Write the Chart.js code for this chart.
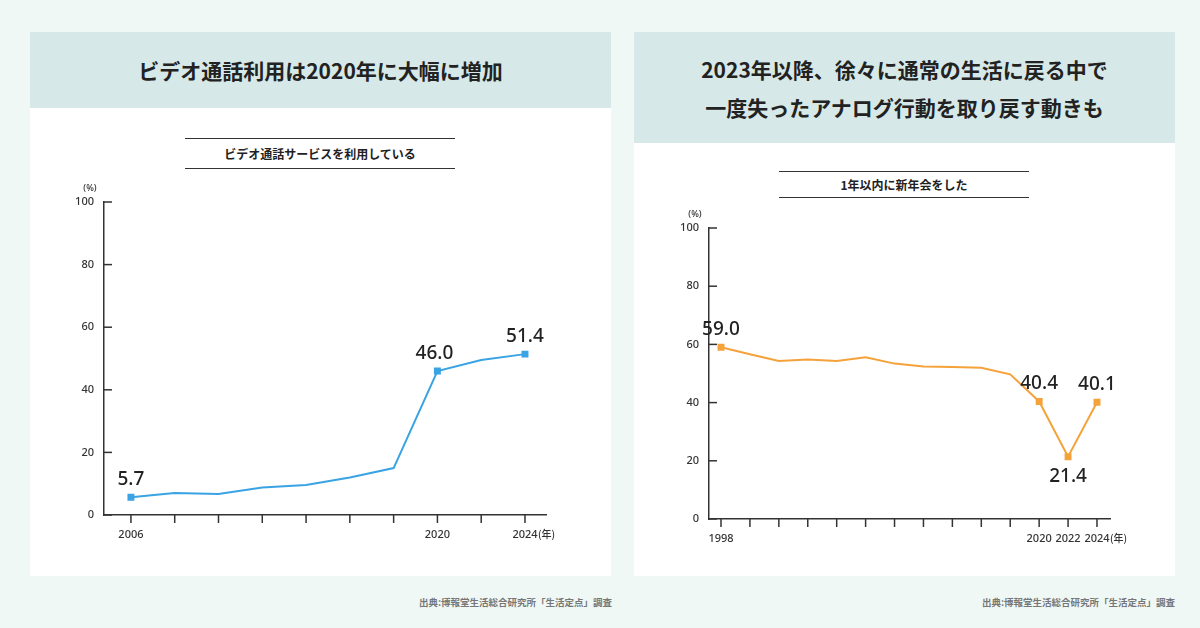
<!DOCTYPE html>
<html lang="ja">
<head>
<meta charset="UTF-8">
<title>生活定点</title>
<script src="https://cdn.jsdelivr.net/npm/chart.js"></script>
<style>
  body { margin: 0; width: 1200px; height: 628px; background: #eff8f5; position: relative; font-family: "Noto Sans CJK JP", "Noto Sans", sans-serif; color: #222; overflow: hidden; }
  .panel { position: absolute; background: #fff; }
  .head { background: #d6e9e8; display: flex; align-items: center; justify-content: center; text-align: center; font-weight: 700; font-size: 21px; line-height: 38px; }
  .sub { position: absolute; border-top: 1px solid #333; border-bottom: 1px solid #333; text-align: center; font-weight: 700; font-size: 12px; }
  .src { position: absolute; font-size: 9.5px; font-weight: 700; color: #777; }
  canvas { position: absolute; }
</style>
</head>
<body>
  <div class="panel" style="left:30px;top:32px;width:581px;height:544px">
    <div class="head" style="height:76px">ビデオ通話利用は2020年に大幅に増加</div>
    <div class="sub" style="left:155px;top:106px;width:270px;height:29px;line-height:29px">ビデオ通話サービスを利用している</div>
    <canvas id="leftChart" style="left:0;top:138px"></canvas>
  </div>
  <div class="panel" style="left:634px;top:32px;width:541px;height:544px">
    <div class="head" style="height:111px">2023年以降、徐々に通常の生活に戻る中で<br>一度失ったアナログ行動を取り戻す動きも</div>
    <div class="sub" style="left:145px;top:139px;width:250px;height:25px;line-height:25px">1年以内に新年会をした</div>
    <canvas id="rightChart" style="left:0;top:165px"></canvas>
  </div>
  <div class="src" style="right:588px;top:595px">出典:博報堂生活総合研究所「生活定点」調査</div>
  <div class="src" style="right:25px;top:595px">出典:博報堂生活総合研究所「生活定点」調査</div>
<script>
  // ビデオ通話サービスを利用している
  const leftYears = [2006, 2008, 2010, 2012, 2014, 2016, 2018, 2020, 2022, 2024];
  const leftValues = [5.7, 7.0, 6.7, 8.8, 9.6, 12.0, 15.0, 46.0, 49.5, 51.4];
  const leftTickLabels = [2006, 2020, 2024];
  const leftCallouts = { 2006: 'above', 2020: 'aboveLeft', 2024: 'above' };

  // 1年以内に新年会をした
  const rightYears = [1998, 2000, 2002, 2004, 2006, 2008, 2010, 2012, 2014, 2016, 2018, 2020, 2022, 2024];
  const rightValues = [59.0, 56.6, 54.3, 54.8, 54.3, 55.6, 53.4, 52.4, 52.2, 52.0, 49.7, 40.4, 21.4, 40.1];
  const rightTickLabels = [1998, 2020, 2022, 2024];
  const rightCallouts = { 1998: 'above', 2020: 'above', 2022: 'below', 2024: 'above' };

  const yTicks = [0, 20, 40, 60, 80, 100];

  // 軸・目盛・ラベルを自前で描く
  const decor = {
    id: 'decor',
    afterDraw(chart, args, opts) {
      const ctx = chart.ctx, xs = chart.scales.x, ys = chart.scales.y;
      const left = chart.chartArea.left, bottom = chart.chartArea.bottom;
      ctx.save();
      ctx.strokeStyle = '#333';
      ctx.lineWidth = 1.5;
      ctx.fillStyle = '#333';
      ctx.font = '500 11px "Noto Sans", sans-serif';
      // y
      ctx.textAlign = 'right';
      ctx.textBaseline = 'middle';
      yTicks.forEach(v => {
        const y = ys.getPixelForValue(v);
        ctx.beginPath(); ctx.moveTo(left, y); ctx.lineTo(left + 8, y); ctx.stroke();
        ctx.fillText(v, left - 10, y);
      });
      ctx.font = '500 9px "Noto Sans", sans-serif';
      ctx.textAlign = 'center';
      ctx.fillText('(%)', left - 14, ys.getPixelForValue(100) - 14);
      // x
      ctx.font = '500 11px "Noto Sans", sans-serif';
      ctx.textBaseline = 'top';
      opts.years.forEach(yr => {
        const x = xs.getPixelForValue(yr);
        ctx.beginPath(); ctx.moveTo(x, bottom); ctx.lineTo(x, bottom + 8); ctx.stroke();
        if (opts.labels.includes(yr)) ctx.fillText(yr, x, bottom + 14);
      });
      const last = opts.years[opts.years.length - 1];
      ctx.textAlign = 'left';
      ctx.font = '500 10px "Noto Sans CJK JP", sans-serif';
      ctx.fillText('(年)', xs.getPixelForValue(last) + 13, bottom + 14);
      // 数値ラベル
      ctx.font = '500 19px "Noto Sans", sans-serif';
      ctx.fillStyle = '#222';
      ctx.textAlign = 'center';
      const data = chart.data.datasets[0].data;
      data.forEach(p => {
        const pos = opts.callouts[p.x];
        if (!pos) return;
        const x = xs.getPixelForValue(p.x), y = ys.getPixelForValue(p.y);
        const txt = p.y.toFixed(1);
        if (pos === 'below') { ctx.textBaseline = 'top'; ctx.fillText(txt, x, y + 10); }
        else { ctx.textBaseline = 'bottom'; ctx.fillText(txt, pos === 'aboveLeft' ? x - 3 : x, y - 8); }
      });
      ctx.restore();
    }
  };

  function makeChart(id, w, h, years, values, color, xmin, xmax, pad, labels, callouts) {
    const canvas = document.getElementById(id);
    canvas.style.width = w + 'px';
    canvas.style.height = h + 'px';
    return new Chart(canvas, {
      type: 'line',
      data: {
        datasets: [{
          data: years.map((y, i) => ({ x: y, y: values[i] })),
          borderColor: color,
          backgroundColor: color,
          borderWidth: 2,
          pointStyle: 'rect',
          pointRadius: years.map(y => callouts[y] ? 3.5 : 0),
          tension: 0
        }]
      },
      options: {
        responsive: false,
        animation: false,
        layout: { padding: pad },
        plugins: { legend: { display: false }, tooltip: { enabled: false },
          decor: { years: years, labels: labels, callouts: callouts } },
        scales: {
          x: { type: 'linear', min: xmin, max: xmax, ticks: { display: false },
               grid: { display: false }, border: { color: '#333', width: 1.5 } },
          y: { min: 0, max: 100, ticks: { display: false },
               grid: { display: false }, border: { color: '#333', width: 1.5 } }
        }
      },
      plugins: [decor]
    });
  }

  // キャンバスサイズを先に設定
  const lc = document.getElementById('leftChart'); lc.width = 581; lc.height = 406;
  const rc = document.getElementById('rightChart'); rc.width = 541; rc.height = 379;

  makeChart('leftChart', 581, 406, leftYears, leftValues, '#3aa3e4', 2004.77, 2024.96,
    { left: 66, top: 32, right: 65, bottom: 53 }, leftTickLabels, leftCallouts);
  makeChart('rightChart', 541, 379, rightYears, rightValues, '#f5a23a', 1997.17, 2024.9,
    { left: 67, top: 31, right: 65, bottom: 49 }, rightTickLabels, rightCallouts);
</script>
</body>
</html>
